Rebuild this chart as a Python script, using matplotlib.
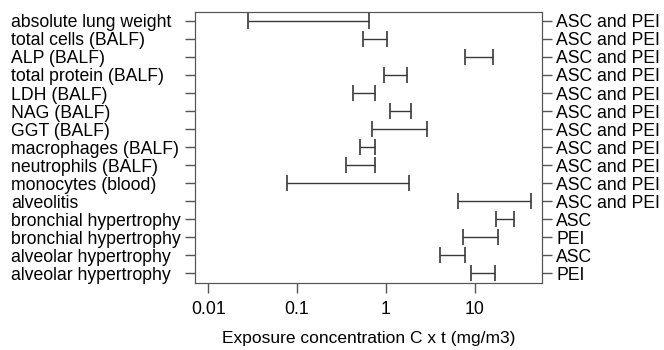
import numpy as np
import matplotlib.pyplot as plt

plt.rcParams['font.family'] = ['Liberation Sans', 'DejaVu Sans']

endpoints = ['absolute lung weight', 'total cells (BALF)', 'ALP (BALF)', 'total protein (BALF)',
             'LDH (BALF)', 'NAG (BALF)', 'GGT (BALF)', 'macrophages (BALF)', 'neutrophils (BALF)',
             'monocytes (blood)', 'alveolitis', 'bronchial hypertrophy', 'bronchial hypertrophy',
             'alveolar hypertrophy', 'alveolar hypertrophy']
groups = ['ASC and PEI'] * 11 + ['ASC', 'PEI', 'ASC', 'PEI']
low = [0.028, 0.55, 7.7, 0.95, 0.43, 1.11, 0.70, 0.51, 0.355, 0.077, 6.4, 17.2, 7.3, 4.0, 9.0]
high = [0.64, 1.02, 15.9, 1.72, 0.75, 1.91, 2.89, 0.75, 0.75, 1.81, 42.6, 27.4, 18.1, 7.7, 16.8]
xticks = [0.01, 0.1, 1, 10]
xticklabels = ['0.01', '0.1', '1', '10']

gray = '#555555'
fs = 12.7
fig = plt.figure(figsize=(6.64, 3.5), dpi=100)
ax = fig.add_axes([0.294, 0.191, 0.522, 0.775])

y = np.arange(len(endpoints))
lo = np.array(low)
hi = np.array(high)
ax.errorbar(lo, y, xerr=[np.zeros_like(lo), hi - lo], fmt='none', ecolor='#383838',
            elinewidth=1.0, capsize=5.8, capthick=1.2)

ax.set_xscale('log')
ax.set_xlim(0.00714, 56.6)
ax.set_ylim(len(endpoints) - 0.45, -0.5)
ax.set_xticks(xticks)
ax.set_xticklabels(xticklabels)
ax.minorticks_off()
ax.set_yticks(y)
ax.set_yticklabels(endpoints, ha='left')
ax.tick_params(axis='both', direction='out', length=7, color=gray, labelsize=fs, width=1)
ax.tick_params(axis='x', pad=6)
# left labels start near the figure's left edge
ax.tick_params(axis='y', pad=(195 - 14 - 7) * 72 / 100)
for s in ax.spines.values():
    s.set_color(gray)

ax2 = ax.twinx()
ax2.set_ylim(ax.get_ylim())
ax2.set_yticks(y)
ax2.set_yticklabels(groups)
ax2.tick_params(axis='y', direction='out', length=7, color=gray, labelsize=fs, width=1)
for s in ax2.spines.values():
    s.set_color(gray)

ax.set_xlabel('Exposure concentration C x t (mg/m3)', fontsize=12.5, labelpad=9)

fig.savefig('out.png', dpi=100)
